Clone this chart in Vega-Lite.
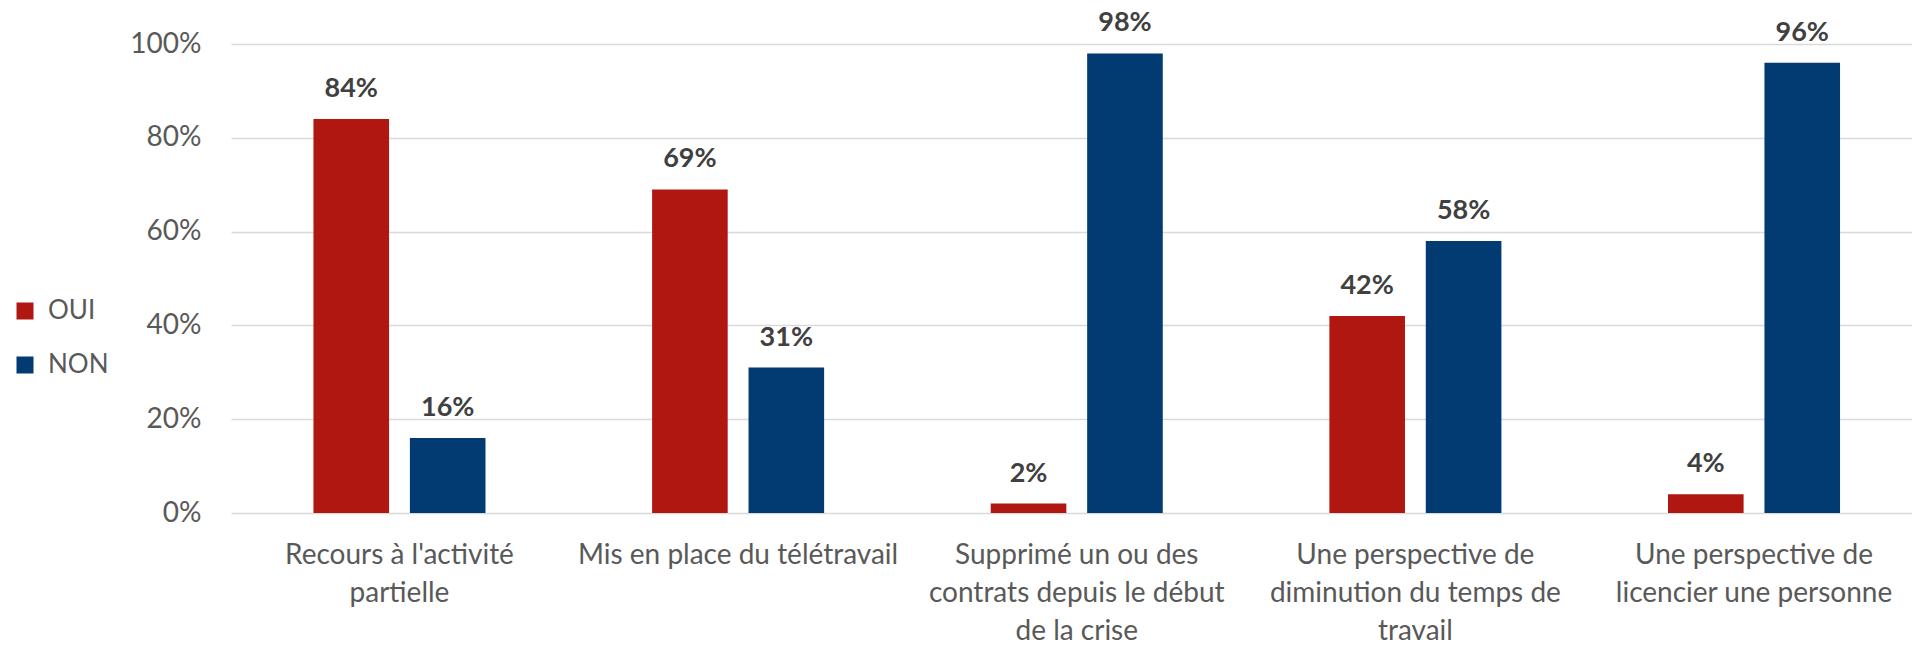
{
  "$schema": "https://vega.github.io/schema/vega-lite/v6.json",
  "autosize": {"type": "none"},
  "width": 1681,
  "height": 469,
  "padding": {"left": 231, "top": 44, "right": 0, "bottom": 133},
  "background": "white",
  "config": {
    "view": {"stroke": null},
    "font": "Lato"
  },
  "data": {
    "values": [
      {"categorie": "Recours à l'activité|partielle", "reponse": "OUI", "part": 0.84},
      {"categorie": "Recours à l'activité|partielle", "reponse": "NON", "part": 0.16},
      {"categorie": "Mis en place du télétravail", "reponse": "OUI", "part": 0.69},
      {"categorie": "Mis en place du télétravail", "reponse": "NON", "part": 0.31},
      {"categorie": "Supprimé un ou des|contrats depuis le début|de la crise", "reponse": "OUI", "part": 0.02},
      {"categorie": "Supprimé un ou des|contrats depuis le début|de la crise", "reponse": "NON", "part": 0.98},
      {"categorie": "Une perspective de|diminution du temps de|travail", "reponse": "OUI", "part": 0.42},
      {"categorie": "Une perspective de|diminution du temps de|travail", "reponse": "NON", "part": 0.58},
      {"categorie": "Une perspective de|licencier une personne", "reponse": "OUI", "part": 0.04},
      {"categorie": "Une perspective de|licencier une personne", "reponse": "NON", "part": 0.96}
    ]
  },
  "encoding": {
    "x": {
      "field": "categorie", "type": "nominal", "sort": null,
      "scale": {"paddingInner": 0.492, "paddingOuter": 0.228, "align": 0.534},
      "axis": {
        "title": null, "labelAngle": 0, "domain": false, "ticks": false,
        "labelExpr": "split(datum.label, '|')",
        "labelFontSize": 28, "labelColor": "#595959", "labelFont": "Lato",
        "labelLineHeight": 38, "labelPadding": 28, "labelBaseline": "top",
        "labelLimit": 400
      }
    },
    "xOffset": {
      "field": "reponse", "type": "nominal",
      "sort": ["OUI", "NON"],
      "scale": {"paddingInner": 0.216, "paddingOuter": 0}
    },
    "y": {
      "field": "part", "type": "quantitative",
      "scale": {"domain": [0, 1], "nice": false},
      "axis": {
        "title": null, "format": ".0%", "values": [0, 0.2, 0.4, 0.6, 0.8, 1],
        "domain": false, "ticks": false,
        "labelFontSize": 28, "labelColor": "#595959", "labelFont": "Lato",
        "labelPadding": 30,
        "gridColor": "#D9D9D9", "gridWidth": 1.5
      }
    }
  },
  "layer": [
    {
      "mark": {"type": "bar"},
      "encoding": {
        "color": {
          "field": "reponse", "type": "nominal",
          "scale": {"domain": ["OUI", "NON"], "range": ["#B01710", "#013B71"]},
          "legend": {
            "title": null, "orient": "none", "legendX": -219, "legendY": 254,
            "symbolType": "square", "symbolSize": 289, "symbolStrokeWidth": 0,
            "labelFontSize": 26, "labelColor": "#595959", "labelFont": "Lato",
            "labelOffset": 10, "rowPadding": 28
          }
        }
      }
    },
    {
      "mark": {"type": "text", "baseline": "alphabetic", "dy": -22, "fontSize": 27, "fontWeight": "bold", "color": "#404040", "font": "Lato"},
      "encoding": {
        "text": {"field": "part", "type": "quantitative", "format": ".0%"}
      }
    }
  ]
}
